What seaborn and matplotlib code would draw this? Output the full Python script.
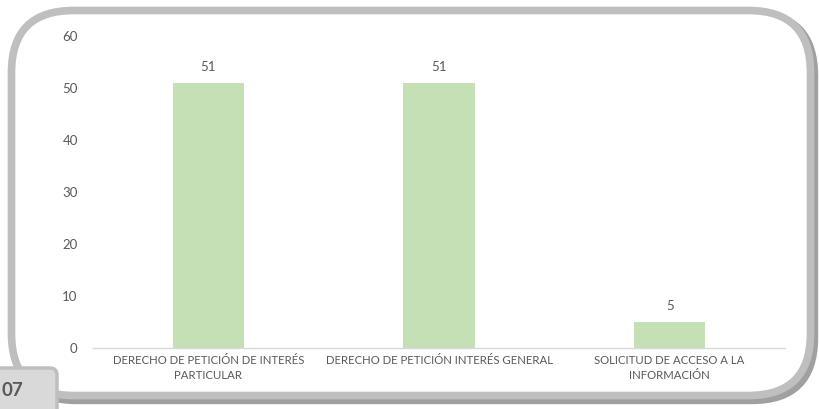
import matplotlib
matplotlib.use("Agg")
import matplotlib.pyplot as plt
import seaborn as sns
import pandas as pd
from matplotlib.patches import FancyBboxPatch

categories = ["DERECHO DE PETICIÓN DE INTERÉS\nPARTICULAR",
              "DERECHO DE PETICIÓN INTERÉS GENERAL",
              "SOLICITUD DE ACCESO A LA\nINFORMACIÓN"]
values = [51, 51, 5]
y_ticks = [0, 10, 20, 30, 40, 50, 60]
page_label = "07"

sns.set_theme(style="white")
plt.rcParams['font.family'] = ['Lato', 'DejaVu Sans']

W, H = 819, 409
fig = plt.figure(figsize=(W / 100, H / 100), dpi=100)

# background axes in pixel units
bg = fig.add_axes([0, 0, 1, 1], zorder=0)
bg.set_xlim(0, W)
bg.set_ylim(H, 0)
bg.axis("off")

# shadow
shadow = FancyBboxPatch((14.5, 13.5), 799.5, 386.5, boxstyle="round,pad=0,rounding_size=62",
                        fc="none", ec="#a0a0a0", lw=6)
bg.add_patch(shadow)
frame = FancyBboxPatch((11.5, 10.5), 799, 385, boxstyle="round,pad=0,rounding_size=62",
                       fc="white", ec="#bfbfbf", lw=5.5)
bg.add_patch(frame)

# page box
pbox = FancyBboxPatch((-12, 368), 69, 60, boxstyle="round,pad=0,rounding_size=7",
                      fc="#d9d9d9", ec="#bfbfbf", lw=2.5)
bg.add_patch(pbox)
bg.text(1, 390, page_label, fontsize=13.5, fontweight="bold", color="#595959",
        ha="left", va="center")

# main chart
ax = fig.add_axes([93 / W, (H - 348) / H, (785 - 93) / W, (348 - 36) / H], zorder=1)
ax.patch.set_alpha(0)
df = pd.DataFrame({"cat": categories, "val": values})
sns.barplot(data=df, x="cat", y="val", color="#c5e0b4", width=0.31, ax=ax,
            saturation=1, edgecolor="none")
ax.set_xlim(-0.5, 2.5)
ax.set_ylim(0, 60)
ax.set_yticks(y_ticks)
ax.set_xlabel("")
ax.set_ylabel("")
for c in ax.containers:
    ax.bar_label(c, labels=[str(v) for v in values], padding=7, fontsize=9.5, color="#595959")
for s in ["left", "right", "top"]:
    ax.spines[s].set_visible(False)
ax.spines["bottom"].set_color("#d9d9d9")
ax.spines["bottom"].set_linewidth(1)
ax.tick_params(axis="y", length=0, pad=11, labelsize=9.5, labelcolor="#595959")
ax.tick_params(axis="x", length=0, pad=5, labelsize=8.2, labelcolor="#595959")
for t in ax.get_xticklabels():
    t.set_linespacing(1.45)
ax.grid(False)

fig.savefig("out.png", dpi=100)
